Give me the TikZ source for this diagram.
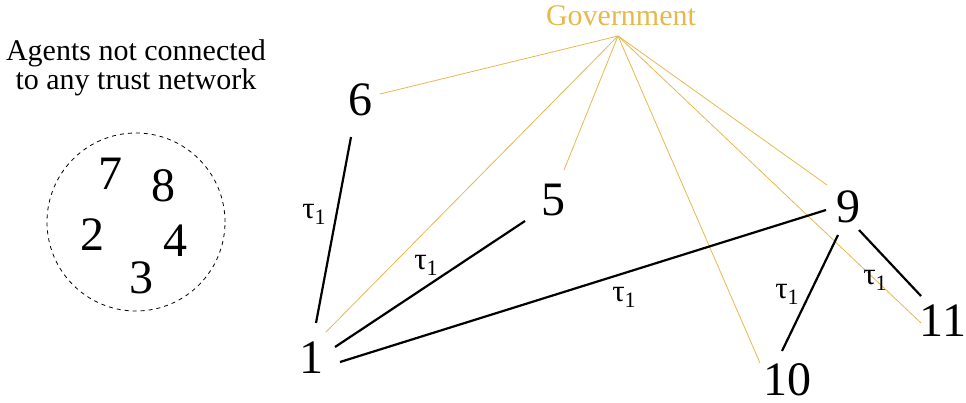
\documentclass[tikz,border=0pt]{standalone}
\usepackage{fontspec}
\setmainfont{Liberation Serif}
\definecolor{gold}{RGB}{231,184,76}
\newcommand\tauone{τ\raisebox{-6pt}{\fontsize{22}{22}\selectfont 1}}
\begin{document}
\begin{tikzpicture}[x=1pt,y=-1pt,
  num/.style={inner sep=0pt, font=\fontsize{48}{48}\selectfont},
  lbl/.style={inner sep=0pt, font=\fontsize{31}{31}\selectfont},
  trust/.style={line width=2.2pt, black},
  govline/.style={line width=0.8pt, gold}]
\useasboundingbox (0,0) rectangle (966,402);
% left group
\node[align=center, inner sep=0pt, anchor=base, font=\fontsize{30}{25}\selectfont] (title) at (136,89) {Agents not connected\\to any trust network};
\node[draw, dashed, dash pattern=on 4pt off 4pt, line width=0.8pt, circle, minimum size=178pt, inner sep=0pt] (pool) at (136,222) {};
\node[num] (n7) at (110,174) {7};
\node[num] (n8) at (163,186) {8};
\node[num] (n2) at (92,235) {2};
\node[num] (n4) at (175,241) {4};
\node[num] (n3) at (141,278) {3};
% network
\node[anchor=base, inner sep=0pt, text=gold, font=\fontsize{30}{30}\selectfont] (gov) at (621,25) {Government};
\coordinate (apex) at (618,36);
\node[num] (n6) at (360,100) {6};
\node[num] (n1) at (311,358) {1};
\node[num] (n5) at (553,200) {5};
\node[num] (n9) at (848,207) {9};
\node[num] (n10) at (787,380) {10};
\node[num] (n11) at (943,321) {11};
% government lines
\draw[govline] (apex) -- ([shift={(20,-6)}]n6.center);
\draw[govline] (apex) -- ([shift={(15,-26)}]n1.center);
\draw[govline] (apex) -- ([shift={(11,-30)}]n5.center);
\draw[govline] (apex) -- ([shift={(-21,-22)}]n9.center);
\draw[govline] (apex) -- ([shift={(-27,-17)}]n10.center);
\draw[govline] (apex) -- ([shift={(-22,2)}]n11.center);
% trust links
\draw[trust] ([shift={(-9,37)}]n6.center) -- ([shift={(5,-35)}]n1.center);
\draw[trust] ([shift={(24,-11)}]n1.center) -- ([shift={(-28,21)}]n5.center);
\draw[trust] ([shift={(29,4)}]n1.center) -- ([shift={(-22,3)}]n9.center);
\draw[trust] ([shift={(-10,28)}]n9.center) -- ([shift={(-5,-29)}]n10.center);
\draw[trust] ([shift={(11,23)}]n9.center) -- ([shift={(-22,-25)}]n11.center);
% labels
\node[lbl] (t61) at (314,214) {\tauone};
\node[lbl] (t15) at (426,265) {\tauone};
\node[lbl] (t19) at (624,297) {\tauone};
\node[lbl] (t910) at (787,294) {\tauone};
\node[lbl] (t911) at (875,280) {\tauone};
\end{tikzpicture}
\end{document}
